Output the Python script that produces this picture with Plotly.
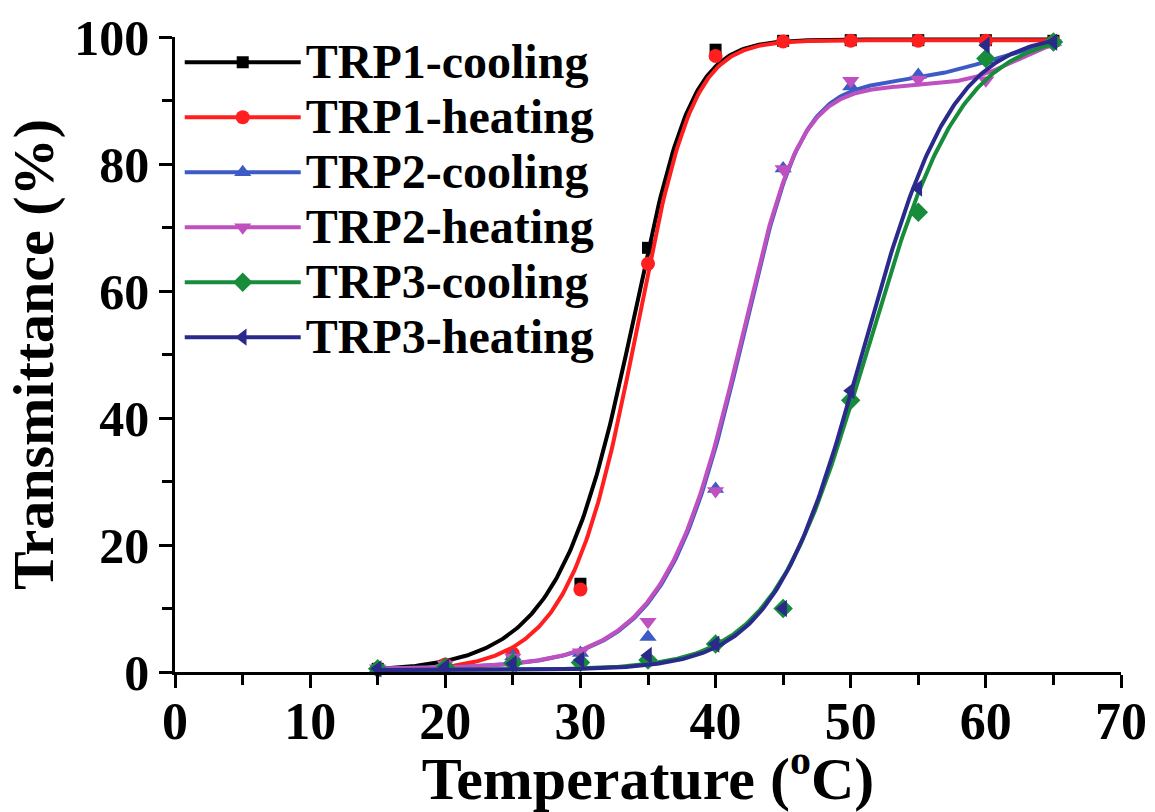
import numpy as np
import plotly.graph_objects as go

# Measured transmittance (%) vs temperature (°C)
temperature = [15, 20, 25, 30, 35, 40, 45, 50, 55, 60, 65]

series_names = ["TRP1-cooling", "TRP1-heating", "TRP2-cooling",
                "TRP2-heating", "TRP3-cooling", "TRP3-heating"]

trp1_cooling = [0.5, 1.0, 2.5, 13.9, 66.8, 98.0, 99.4, 99.5, 99.5, 99.5, 99.4]
trp1_heating = [0.5, 1.2, 2.9, 13.0, 64.3, 97.0, 99.3, 99.4, 99.4, 99.4, 99.3]
trp2_cooling = [0.6, 0.9, 2.5, 3.0, 5.5, 28.8, 79.3, 92.2, 94.0, 96.3, 99.2]
trp2_heating = [0.6, 1.2, 2.3, 3.1, 7.9, 28.5, 79.2, 93.1, 93.3, 93.2, 99.0]
trp3_cooling = [0.5, 0.8, 1.4, 1.5, 1.9, 4.4, 10.0, 42.8, 72.4, 96.6, 99.2]
trp3_heating = [0.5, 0.8, 1.3, 1.9, 2.6, 4.4, 10.0, 44.3, 76.2, 98.7, 99.2]

series_values = [trp1_cooling, trp1_heating, trp2_cooling,
                 trp2_heating, trp3_cooling, trp3_heating]

# Sigmoidal fit parameters for each series:
# y = base + h1 * logistic((T - x0) / w) ** m + h2 * logistic((T - c2) / w2)
fit_base = [0.0, 0.0, 0.5, 0.5, 0.3, 0.3]
fit_h1 = [99.6, 99.5, 92.3, 91.9, 100.5, 100.5]
fit_x0 = [35.44, 35.25, 43.5, 43.39, 51.2, 50.9]
fit_w = [1.9, 1.9, 1.95, 1.95, 3.5, 3.3]
fit_m = [0.5, 0.6, 0.5, 0.5, 1.0, 1.0]
fit_h2 = [0.0, 0.0, 8.0, 7.5, 0.0, 0.0]
fit_c2 = [60.0, 60.0, 61.0, 62.0, 60.0, 60.0]
fit_w2 = [1.0, 1.0, 3.0, 1.8, 1.0, 1.0]
fit_range = [15, 65]

colors = ["#000000", "#FF1F1F", "#3D5BC4", "#BF50BF", "#178C3A", "#2A2A8C"]
symbols = ["square", "circle", "triangle-up", "triangle-down", "diamond", "triangle-left"]
marker_sizes = [12, 14, 15, 15, 15, 15]

x_ticks = [0, 10, 20, 30, 40, 50, 60, 70]
y_ticks = [0, 20, 40, 60, 80, 100]

FONT = "Liberation Serif"


def logistic(z):
    return 1.0 / (1.0 + np.exp(-z))


def fit_curve(i, t):
    main = fit_h1[i] * logistic((t - fit_x0[i]) / fit_w[i]) ** fit_m[i]
    second = fit_h2[i] * logistic((t - fit_c2[i]) / fit_w2[i])
    return fit_base[i] + main + second


t_fit = np.linspace(fit_range[0], fit_range[1], 400)

fig = go.Figure()

for i, name in enumerate(series_names):
    fig.add_trace(go.Scatter(
        x=t_fit, y=fit_curve(i, t_fit), mode="lines",
        line=dict(color=colors[i], width=4), showlegend=False,
        hoverinfo="skip",
    ))
    fig.add_trace(go.Scatter(
        x=temperature, y=series_values[i], mode="markers",
        marker=dict(symbol=symbols[i], size=marker_sizes[i], color=colors[i],
                    line=dict(width=0)),
        showlegend=False, cliponaxis=False, name=name,
    ))

# Legend entries: line with the series marker
for i, name in enumerate(series_names):
    fig.add_trace(go.Scatter(
        x=[None], y=[None], mode="lines+markers",
        name=f'<span style="font-size:48px">{name}</span>',
        line=dict(color=colors[i], width=4),
        marker=dict(symbol=symbols[i], size=marker_sizes[i], color=colors[i]),
        legendgroup=name,
    ))

axis_common = dict(
    showline=True, linecolor="black", linewidth=2.5, mirror=False,
    ticks="outside", tickcolor="black", tickwidth=2.5, ticklen=13,
    showgrid=False, zeroline=False, automargin=False,
)

fig.update_xaxes(
    range=[0, 70], tickvals=x_ticks, **axis_common,
    minor=dict(ticks="outside", dtick=5, ticklen=10, tickwidth=2.5, tickcolor="black", showgrid=False),
    tickfont=dict(family=FONT, size=52, color="black", weight="bold"),
    ticklabelstandoff=-11,
    title=dict(text="Temperature (<sup>o</sup>C)",
               font=dict(family=FONT, size=60, color="black", weight="bold"),
               standoff=8),
)
fig.update_yaxes(
    range=[0, 100], tickvals=y_ticks, **axis_common,
    minor=dict(ticks="outside", dtick=10, ticklen=10, tickwidth=2.5, tickcolor="black", showgrid=False),
    tickfont=dict(family=FONT, size=50, color="black", weight="bold"),
    title=dict(text="Transmittance (%)",
               font=dict(family=FONT, size=58, color="black", weight="bold"),
               standoff=2),
)

fig.update_layout(
    width=1155, height=812,
    margin=dict(l=175, r=34, t=37, b=140),
    paper_bgcolor="white", plot_bgcolor="white",
    showlegend=True,
    legend=dict(
        x=0.005, y=1.0115, xanchor="left", yanchor="top",
        bgcolor="rgba(0,0,0,0)", borderwidth=0,
        font=dict(family=FONT, size=40, color="black", weight="bold"),
        itemwidth=116, traceorder="grouped", tracegroupgap=0,
    ),
)

fig.write_html("out.html")
